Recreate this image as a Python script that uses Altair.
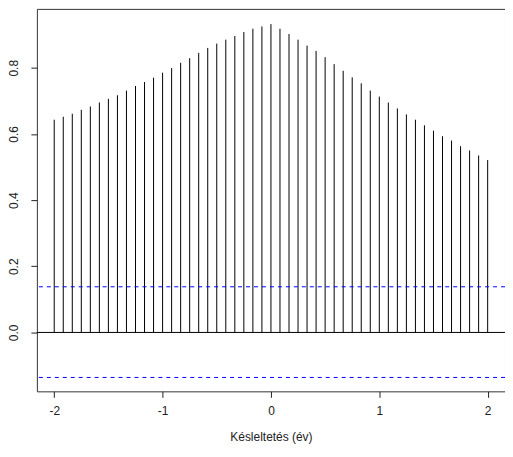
import altair as alt
import pandas as pd

# lag in months (plotted in years)
lag_months = list(range(-24, 25))
ccf_values = [
    0.643, 0.652, 0.661, 0.673, 0.683, 0.695, 0.706, 0.717, 0.731, 0.745, 0.757, 0.770, 0.785,
    0.799, 0.815, 0.829, 0.845, 0.860, 0.873, 0.885, 0.896, 0.908, 0.918, 0.925,
    0.932,
    0.918, 0.902, 0.885, 0.867, 0.851, 0.832, 0.811, 0.791, 0.771, 0.753, 0.731, 0.713, 0.695,
    0.677, 0.659, 0.643, 0.626, 0.610, 0.593, 0.580, 0.563, 0.550, 0.535, 0.521,
]
ci_bounds = [0.138, -0.136]
x_ticks = [-2, -1, 0, 1, 2]
y_ticks = [0, 0.2, 0.4, 0.6, 0.8]
x_title = "Késleltetés (év)"

df = pd.DataFrame({"lag": [m / 12 for m in lag_months], "ccf": ccf_values})
df_zero = pd.DataFrame({"y": [0.0]})
df_ci = pd.DataFrame({"y": ci_bounds})

FONT = "Liberation Sans"

x = alt.X(
    "lag:Q",
    scale=alt.Scale(domain=[-2.16, 2.16], nice=False, zero=False),
    axis=alt.Axis(
        values=x_ticks,
        labelExpr="datum.value + ''",
        title=x_title,
        grid=False,
        domain=False,
        tickColor="#222",
        tickSize=6,
        labelPadding=8,
        labelFontSize=12,
        labelFont=FONT,
        labelColor="#222",
        titleFont=FONT,
        titleFontSize=12,
        titleFontWeight="normal",
        titleColor="#222",
        titlePadding=15,
    ),
)
y = alt.Y(
    "ccf:Q",
    scale=alt.Scale(domain=[-0.178, 0.978], nice=False, zero=False),
    axis=alt.Axis(
        values=y_ticks,
        labelExpr="format(datum.value, '.1f')",
        title=None,
        grid=False,
        domain=False,
        tickColor="#222",
        tickSize=6,
        labelAngle=270,
        labelAlign="center",
        labelBaseline="bottom",
        labelPadding=10,
        labelFontSize=12,
        labelFont=FONT,
        labelColor="#222",
    ),
)

bars = alt.Chart(df).mark_rule(color="black", strokeWidth=1).encode(
    x=x, y=y, y2=alt.datum(0)
)
zero = alt.Chart(df_zero).mark_rule(color="black", strokeWidth=1).encode(y=alt.Y("y:Q"))
ci = alt.Chart(df_ci).mark_rule(color="#0000ff", strokeWidth=1, strokeDash=[4, 4]).encode(
    y=alt.Y("y:Q")
)

chart = (
    alt.layer(bars, zero, ci)
    .properties(
        width=470,
        height=384,
        autosize=alt.AutoSizeParams(type="none"),
        padding={"left": 29, "top": 0, "right": 0, "bottom": 56},
        background="white",
    )
    .configure_view(stroke="#333", strokeWidth=1)
)

chart.save("out.html", embed_options={"renderer": "svg", "actions": False})
